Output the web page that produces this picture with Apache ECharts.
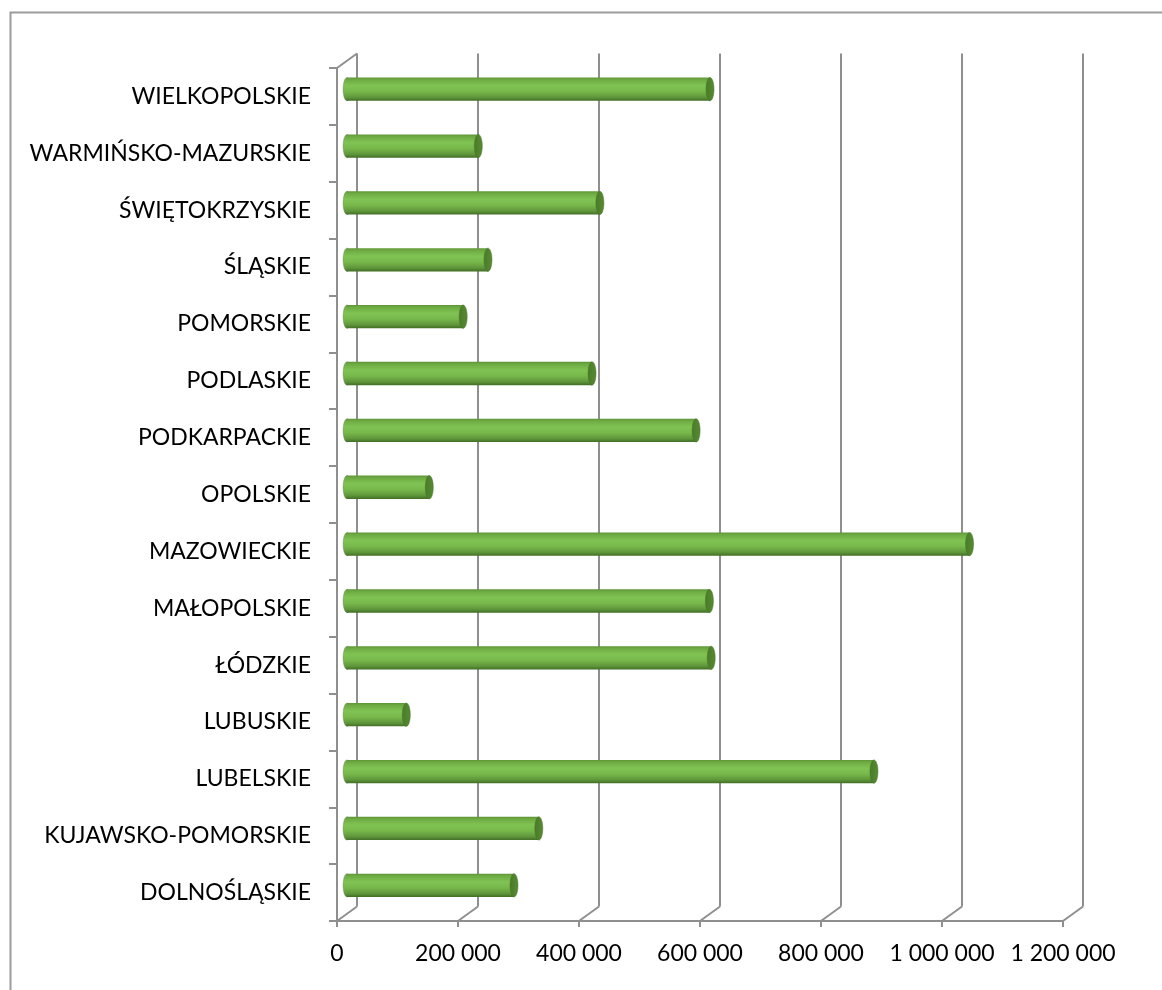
<!DOCTYPE html>
<html>
<head>
<meta charset="utf-8">
<script src="https://cdn.jsdelivr.net/npm/echarts@6/dist/echarts.min.js"></script>
<style>
html,body{margin:0;padding:0;background:#fff;}
#chart{width:1162px;height:990px;}
</style>
</head>
<body>
<div id="chart"></div>
<script>
// ---- data (bottom to top, as in the chart) ----
const categories = [
  'DOLNOŚLĄSKIE','KUJAWSKO-POMORSKIE','LUBELSKIE','LUBUSKIE','ŁÓDZKIE',
  'MAŁOPOLSKIE','MAZOWIECKIE','OPOLSKIE','PODKARPACKIE','PODLASKIE',
  'POMORSKIE','ŚLĄSKIE','ŚWIĘTOKRZYSKIE','WARMIŃSKO-MAZURSKIE','WIELKOPOLSKIE'
];
const values = [
  276000, 317000, 871000, 98000, 602000,
  599000, 1029000, 136000, 577000, 405000,
  192000, 233000, 418000, 217000, 600000
];
const xTicks = [0, 200000, 400000, 600000, 800000, 1000000, 1200000];
const xMin = 0, xMax = 1200000, xInterval = 200000;

// ---- layout / style constants ----
const DX = 20, DY = -14.5;           // depth offset of the back wall
const FRONT = {left: 337, top: 68, width: 726, height: 853};
const GRAY = '#8f8f8f';
const FONT = 'Lato';

function fmt(v){ return String(v).replace(/\B(?=(\d{3})+(?!\d))/g, ' '); }

const chart = echarts.init(document.getElementById('chart'), null, {renderer:'canvas'});

const hiddenCat = {type:'category', data:categories, show:false, boundaryGap:true};
const hiddenVal = {type:'value', min:xMin, max:xMax, interval:xInterval, show:false};

const option = {
  backgroundColor:'#fff',
  animation:false,
  graphic:[{
    type:'rect', left:8, top:10, silent:true, z:-10,
    shape:{width:1300, height:1100},
    style:{fill:'none', stroke:'#9c9c9c', lineWidth:2}
  }],
  grid:[
    {left:FRONT.left, top:FRONT.top, width:FRONT.width, height:FRONT.height},
    {left:FRONT.left+DX, top:FRONT.top+DY, width:FRONT.width, height:FRONT.height},
    {left:FRONT.left+DX/2, top:FRONT.top+DY/2, width:FRONT.width, height:FRONT.height}
  ],
  xAxis:[
    {gridIndex:0, type:'value', min:xMin, max:xMax, interval:xInterval,
     axisLine:{show:true, lineStyle:{color:GRAY, width:2}},
     axisTick:{show:true, length:6, lineStyle:{color:GRAY, width:2}},
     splitLine:{show:false},
     axisLabel:{margin:21, color:'#000', fontFamily:FONT, fontSize:23, formatter:fmt}},
    {gridIndex:1, type:'value', min:xMin, max:xMax, interval:xInterval,
     axisLine:{show:false}, axisTick:{show:false}, axisLabel:{show:false},
     splitLine:{show:true, lineStyle:{color:GRAY, width:2}}},
    Object.assign({gridIndex:2}, hiddenVal)
  ],
  yAxis:[
    {gridIndex:0, type:'category', data:categories, boundaryGap:true,
     axisLine:{show:true, lineStyle:{color:GRAY, width:2}},
     axisTick:{show:true, length:8, lineStyle:{color:GRAY, width:2}},
     splitLine:{show:false},
     axisLabel:{margin:26, color:'#000', fontFamily:FONT, fontSize:23}},
    Object.assign({gridIndex:1}, hiddenCat),
    Object.assign({gridIndex:2}, hiddenCat)
  ],
  series:[
    // floor / wall diagonals joining the front axis to the back wall
    {
      type:'custom', xAxisIndex:0, yAxisIndex:0, silent:true, z:1,
      data:xTicks.map(v => [v, 0]),
      renderItem:function(params, api){
        const cs = params.coordSys;
        const x = api.coord([api.value(0), 0])[0];
        const yb = cs.y + cs.height;
        const children = [{
          type:'line',
          shape:{x1:x, y1:yb, x2:x+DX, y2:yb+DY},
          style:{stroke:GRAY, lineWidth:2}
        }];
        if (params.dataIndex === 0) {
          children.push({
            type:'line',
            shape:{x1:x, y1:cs.y, x2:x+DX, y2:cs.y+DY},
            style:{stroke:GRAY, lineWidth:2}
          });
        }
        return {type:'group', children:children};
      }
    },
    // cylinder bars
    {
      type:'custom', xAxisIndex:2, yAxisIndex:2, z:5,
      data:values.map((v,i) => [v, i]),
      renderItem:function(params, api){
        const end = api.coord([api.value(0), api.value(1)]);
        const start = api.coord([0, api.value(1)]);
        const band = api.size([0, 1])[1];
        const h = band * 0.41;
        const rx = 4;
        const bodyFill = new echarts.graphic.LinearGradient(0,0,0,1,[
          {offset:0, color:'#5f9537'},
          {offset:0.1, color:'#6eab43'},
          {offset:0.35, color:'#80c353'},
          {offset:0.6, color:'#78b84b'},
          {offset:0.85, color:'#5f963b'},
          {offset:1, color:'#426e25'}
        ]);
        const capFill = new echarts.graphic.LinearGradient(0,0,1,0,[
          {offset:0, color:'#4a7b29'},
          {offset:1, color:'#578b31'}
        ]);
        return {
          type:'group',
          children:[
            {type:'ellipse', shape:{cx:start[0], cy:start[1], rx:rx, ry:h/2},
             style:{fill:bodyFill, stroke:'rgba(120,120,120,0.35)', lineWidth:1}},
            {type:'rect', shape:{x:start[0], y:start[1]-h/2, width:end[0]-start[0], height:h},
             style:{fill:bodyFill}},
            {type:'ellipse', shape:{cx:end[0], cy:end[1], rx:rx, ry:h/2},
             style:{fill:capFill, stroke:'#47752a', lineWidth:0.5}}
          ]
        };
      }
    }
  ]
};
chart.setOption(option);
</script>
</body>
</html>
